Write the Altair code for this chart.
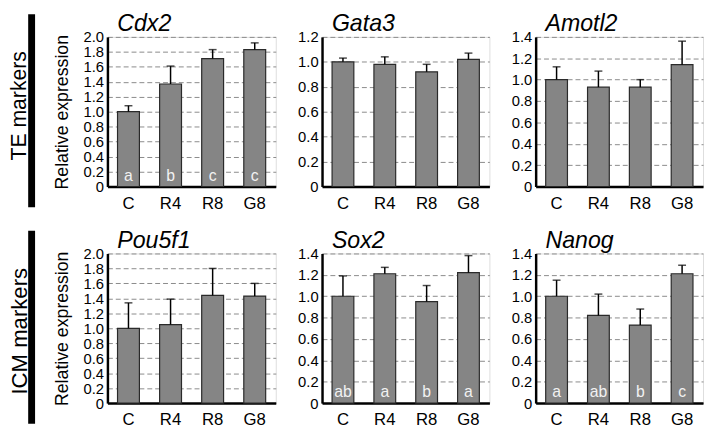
import altair as alt
import pandas as pd

groups = ["C", "R4", "R8", "G8"]

cdx2_mean = [1.00, 1.37, 1.71, 1.83]
cdx2_upper = [1.08, 1.61, 1.83, 1.92]
cdx2_letters = ["a", "b", "c", "c"]

gata3_mean = [1.00, 0.98, 0.92, 1.02]
gata3_upper = [1.03, 1.04, 0.98, 1.07]

amotl2_mean = [1.00, 0.93, 0.93, 1.14]
amotl2_upper = [1.12, 1.08, 1.00, 1.36]

pou5f1_mean = [1.00, 1.05, 1.44, 1.43]
pou5f1_upper = [1.34, 1.39, 1.80, 1.60]

sox2_mean = [1.00, 1.21, 0.95, 1.22]
sox2_upper = [1.19, 1.27, 1.10, 1.38]
sox2_letters = ["ab", "a", "b", "a"]

nanog_mean = [1.00, 0.82, 0.73, 1.21]
nanog_upper = [1.15, 1.02, 0.88, 1.29]
nanog_letters = ["a", "ab", "b", "c"]

ticks_20 = [0, 0.2, 0.4, 0.6, 0.8, 1.0, 1.2, 1.4, 1.6, 1.8, 2.0]
ticks_12 = [0, 0.2, 0.4, 0.6, 0.8, 1.0, 1.2]
ticks_14 = [0, 0.2, 0.4, 0.6, 0.8, 1.0, 1.2, 1.4]

FONT = "Liberation Sans"
H = 152


def panel(title, mean, upper, letters, domain, ticks, width,
          first=False, row_label=None, label_size=20, label_x=-90, label_y=70):
    df = pd.DataFrame({"group": groups, "mean": mean, "upper": upper,
                       "letter": letters if letters else [""] * 4})
    xaxis = alt.Axis(title=None, labelAngle=0, labelPadding=9, labelFontSize=17,
                     ticks=False, domainWidth=2.5, domainColor="black", grid=False,
                     labelColor="black", labelFont=FONT)
    x = alt.X("group:N", sort=groups,
              scale=alt.Scale(paddingInner=0.48, paddingOuter=0.24), axis=xaxis)
    yaxis_kw = dict(values=ticks, labelExpr="datum.value == 0 ? '0' : format(datum.value, '.1f')",
                    ticks=False, domainWidth=2.5, domainColor="black", labelFontSize=15,
                    labelPadding=4, labelColor="black", labelFont=FONT, labelOverlap=False,
                    minExtent=26, maxExtent=26, grid=True, gridDash=[5, 3],
                    gridColor="#8a8a8a", gridWidth=1)
    if first:
        yaxis = alt.Axis(title="Relative expression", titleFontSize=18, titleFontWeight="normal",
                         titlePadding=11, titleColor="black", titleFont=FONT, **yaxis_kw)
    else:
        yaxis = alt.Axis(title=None, **yaxis_kw)
    yscale = alt.Scale(domain=domain, nice=False, zero=True)

    base = alt.Chart(df)
    bars = base.mark_bar(color="#858585", stroke="#2a2a2a", strokeWidth=1.2).encode(
        x=x, y=alt.Y("mean:Q", scale=yscale, axis=yaxis))
    err = base.mark_rule(color="black", strokeWidth=1.5).encode(
        x=x, y=alt.Y("mean:Q", scale=yscale, axis=yaxis), y2="upper:Q")
    cap = base.mark_tick(color="black", thickness=1.5, size=8).encode(
        x=x, y=alt.Y("upper:Q", scale=yscale, axis=yaxis))
    layers = [bars, err, cap]
    if letters:
        txt = base.mark_text(color="#f2f2f2", fontSize=16, font=FONT, baseline="alphabetic",
                             dy=-6).encode(x=x, y=alt.YDatum(0, scale=yscale, axis=yaxis),
                                           text="letter:N")
        layers.append(txt)
    tdf = pd.DataFrame({"t": [title]})
    ttl = alt.Chart(tdf).mark_text(fontSize=23.5, fontStyle="italic", font=FONT, align="left",
                                   baseline="alphabetic", color="black").encode(
        x=alt.value(10), y=alt.value(-6), text="t:N")
    layers.append(ttl)
    if row_label:
        ldf = pd.DataFrame({"t": [row_label]})
        lab = alt.Chart(ldf).mark_text(fontSize=label_size, font=FONT, angle=270,
                                       align="center", baseline="middle", color="black").encode(
            x=alt.value(label_x), y=alt.value(label_y), text="t:N")
        bar = alt.Chart(ldf).mark_rect(color="black").encode(
            x=alt.value(-80.5), x2=alt.value(-73.5), y=alt.value(-23), y2=alt.value(173))
        layers += [lab, bar]
    return alt.layer(*layers).properties(width=width, height=H)


row1 = alt.hconcat(
    panel("Cdx2", cdx2_mean, cdx2_upper, cdx2_letters, [0, 2.0], ticks_20, 171,
          first=True, row_label="TE markers", label_size=21.5, label_x=-89, label_y=70),
    panel("Gata3", gata3_mean, gata3_upper, None, [0, 1.2], ticks_12, 170),
    panel("Amotl2", amotl2_mean, amotl2_upper, None, [0, 1.4], ticks_14, 170),
    spacing=19,
)
row2 = alt.hconcat(
    panel("Pou5f1", pou5f1_mean, pou5f1_upper, None, [0, 2.0], ticks_20, 171,
          first=True, row_label="ICM markers", label_size=22.5, label_x=-89, label_y=79),
    panel("Sox2", sox2_mean, sox2_upper, sox2_letters, [0, 1.4], ticks_14, 170),
    panel("Nanog", nanog_mean, nanog_upper, nanog_letters, [0, 1.4], ticks_14, 170),
    spacing=19,
)

chart = alt.vconcat(row1, row2, spacing=16).properties(padding=0).configure_view(
    stroke=None).configure(font=FONT, background="white")

chart.save("out.html", embed_options={"renderer": "svg", "actions": False})
